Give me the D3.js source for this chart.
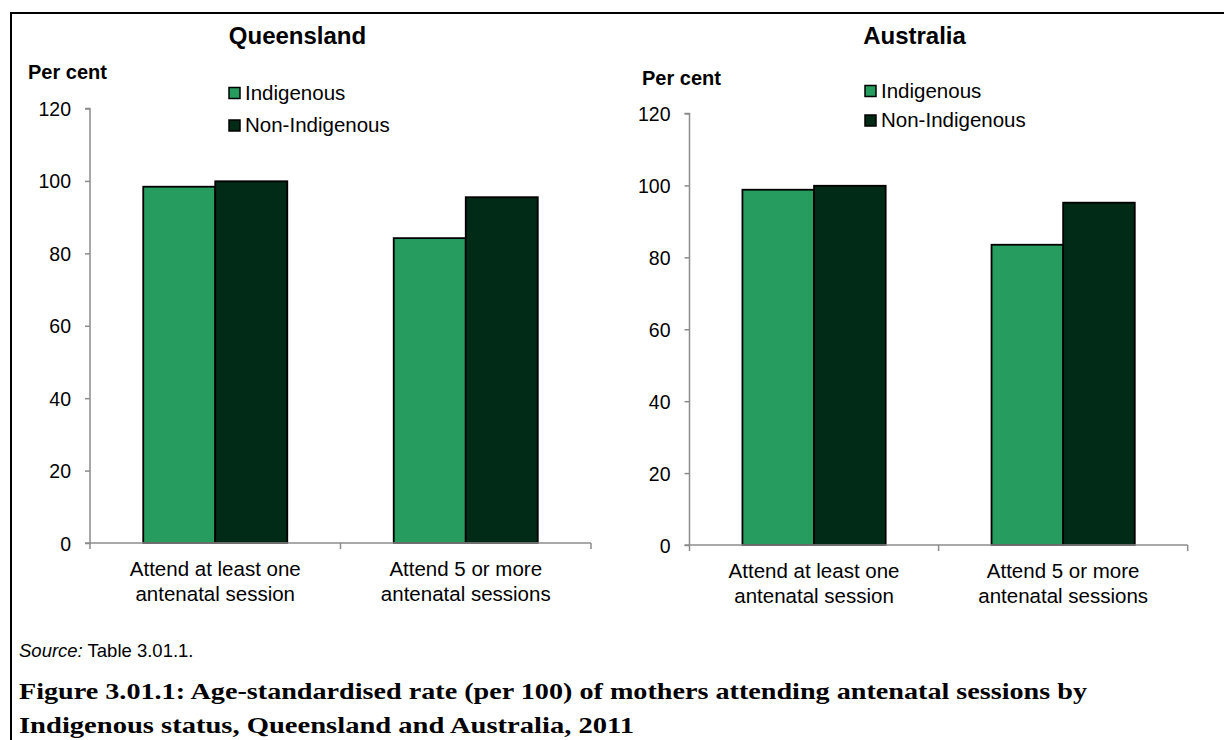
<!DOCTYPE html>
<html>
<head>
<meta charset="utf-8">
<script src="https://cdn.jsdelivr.net/npm/d3@7"></script>
<style>
  html, body { margin: 0; padding: 0; background: #fff; }
  svg { display: block; }
</style>
</head>
<body>
<svg id="chart" width="1224" height="740"></svg>
<script>
// ---------- DATA ----------
const categories = [
  ["Attend at least one", "antenatal session"],
  ["Attend 5 or more", "antenatal sessions"]
];
const seriesNames = ["Indigenous", "Non-Indigenous"];
const queenslandIndigenous = [98.4, 84.2];
const queenslandNonIndigenous = [99.9, 95.5];
const australiaIndigenous = [98.8, 83.5];
const australiaNonIndigenous = [99.9, 95.2];
const yTicks = [0, 20, 40, 60, 80, 100, 120];
const panelTitles = ["Queensland", "Australia"];
const yAxisTitle = "Per cent";
const sourceLabel = "Source:";
const sourceText = " Table 3.01.1.";
const captionLines = [
  "Figure 3.01.1: Age-standardised rate (per 100) of mothers attending antenatal sessions by",
  "Indigenous status, Queensland and Australia, 2011"
];

// ---------- STYLE ----------
const colors = ["#269c5f", "#022b17"];
const sans = "'Liberation Sans', Arial, sans-serif";
const serif = "'Liberation Serif', 'Times New Roman', serif";
const axisColor = "#8c8c8c";

const svg = d3.select("#chart");

// frame (top and left rule)
svg.append("line").attr("x1", 11).attr("x2", 1224).attr("y1", 13).attr("y2", 13)
  .attr("stroke", "#000").attr("stroke-width", 2);
svg.append("line").attr("x1", 11).attr("x2", 11).attr("y1", 12).attr("y2", 740)
  .attr("stroke", "#000").attr("stroke-width", 2);

const panels = [
  {
    title: panelTitles[0], titleX: 297.5, titleY: 44,
    perX: 28, perY: 79,
    xRange: [90, 591], yRange: [543, 108.5],
    legendX: 229, legendY: [99.5, 132],
    values: [queenslandIndigenous, queenslandNonIndigenous]
  },
  {
    title: panelTitles[1], titleX: 914.5, titleY: 43.5,
    perX: 642, perY: 85,
    xRange: [689.5, 1187.7], yRange: [545, 113.5],
    legendX: 865, legendY: [97.5, 127],
    values: [australiaIndigenous, australiaNonIndigenous]
  }
];

panels.forEach(p => {
  const g = svg.append("g");
  const x0 = d3.scaleBand().domain(d3.range(categories.length))
    .range(p.xRange).paddingInner(0.425).paddingOuter(0.2125);
  const x1 = d3.scaleBand().domain(d3.range(seriesNames.length))
    .range([0, x0.bandwidth()]);
  const y = d3.scaleLinear().domain([0, 120]).range(p.yRange);

  // title
  g.append("text").attr("x", p.titleX).attr("y", p.titleY)
    .attr("text-anchor", "middle").attr("font-family", sans)
    .attr("font-weight", "bold").attr("font-size", 24).text(p.title);
  g.append("text").attr("x", p.perX).attr("y", p.perY)
    .attr("font-family", sans).attr("font-weight", "bold")
    .attr("font-size", 20).text(yAxisTitle);

  // bars
  categories.forEach((c, ci) => {
    seriesNames.forEach((s, si) => {
      const v = p.values[si][ci];
      g.append("rect")
        .attr("x", x0(ci) + x1(si))
        .attr("y", y(v))
        .attr("width", x1.bandwidth())
        .attr("height", y(0) - y(v))
        .attr("fill", colors[si])
        .attr("stroke", "#000").attr("stroke-width", 1.8);
    });
  });

  // y axis
  const yAxis = d3.axisLeft(y).tickValues(yTicks).tickSize(5).tickPadding(14);
  const ya = g.append("g").attr("transform", `translate(${p.xRange[0]},0)`).call(yAxis);
  ya.select(".domain").attr("stroke", axisColor).attr("stroke-width", 1.5)
    .attr("d", `M-5,${p.yRange[1]}H0V${p.yRange[0]}`);
  ya.selectAll(".tick line").attr("stroke", axisColor).attr("stroke-width", 1.5);
  ya.selectAll(".tick text").attr("font-family", sans).attr("font-size", 19.5)
    .attr("fill", "#000").attr("dy", "0.36em");

  // x axis line with boundary ticks
  const xa = g.append("g");
  xa.append("line").attr("x1", p.xRange[0] - 5).attr("x2", p.xRange[1])
    .attr("y1", p.yRange[0]).attr("y2", p.yRange[0])
    .attr("stroke", axisColor).attr("stroke-width", 1.5);
  const step = x0.step();
  const bounds = d3.range(categories.length + 1).map(i => p.xRange[0] + i * step);
  xa.selectAll("line.b").data(bounds).enter().append("line")
    .attr("x1", d => d).attr("x2", d => d)
    .attr("y1", p.yRange[0]).attr("y2", p.yRange[0] + 6)
    .attr("stroke", axisColor).attr("stroke-width", 1.5);

  // category labels
  categories.forEach((c, ci) => {
    const cx = x0(ci) + x0.bandwidth() / 2;
    const t = xa.append("text").attr("text-anchor", "middle")
      .attr("font-family", sans).attr("font-size", 20.5).attr("fill", "#000");
    c.forEach((line, li) => {
      t.append("tspan").attr("x", cx).attr("y", p.yRange[0] + 33 + li * 25).text(line);
    });
  });

  // legend
  seriesNames.forEach((s, si) => {
    const ly = p.legendY[si];
    g.append("rect").attr("x", p.legendX).attr("y", ly - 12)
      .attr("width", 11).attr("height", 11)
      .attr("fill", colors[si]).attr("stroke", "#000").attr("stroke-width", 1.5);
    g.append("text").attr("x", p.legendX + 16).attr("y", ly)
      .attr("font-family", sans).attr("font-size", 20.5).text(s);
  });
});

// source
const src = svg.append("text").attr("x", 19).attr("y", 657)
  .attr("font-family", sans).attr("font-size", 18.5);
src.append("tspan").attr("font-style", "italic").text(sourceLabel);
src.append("tspan").text(sourceText);

// caption
const capWidths = [1068, 615];
captionLines.forEach((line, i) => {
  svg.append("text").attr("x", 19).attr("y", 699 + i * 34)
    .attr("font-family", serif).attr("font-weight", "bold")
    .attr("font-size", 24)
    .attr("textLength", capWidths[i]).attr("lengthAdjust", "spacingAndGlyphs")
    .text(line);
});
</script>
</body>
</html>
